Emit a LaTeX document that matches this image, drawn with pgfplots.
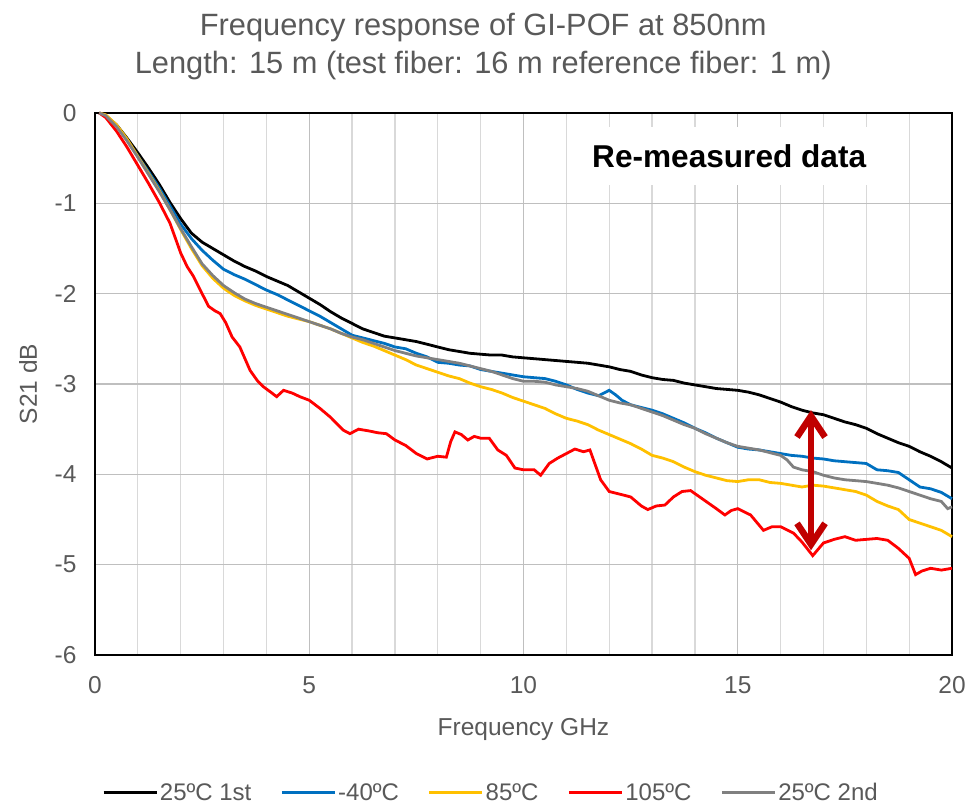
\documentclass[border=0pt]{standalone}
\usepackage{fontspec}
\setmainfont{Liberation Sans}
\usepackage{pgfplots}
\pgfplotsset{compat=1.18}
\usetikzlibrary{arrows.meta}
\definecolor{txtgray}{HTML}{595959}
\definecolor{cblue}{HTML}{0070C0}
\definecolor{cyellow}{HTML}{FFC000}
\definecolor{cred}{HTML}{FF0000}
\definecolor{cgray}{HTML}{808080}
\definecolor{arrowred}{HTML}{C00000}
\definecolor{majgrid}{HTML}{BFBFBF}
\definecolor{mingrid}{HTML}{D9D9D9}
\begin{document}
\begin{tikzpicture}
\begin{axis}[
  width=857bp, height=542bp, scale only axis,
  xmin=0, xmax=20, ymin=-6, ymax=0,
  xtick={0,5,10,15,20},
  minor xtick={1,2,3,4,6,7,8,9,11,12,13,14,16,17,18,19},
  ytick={-6,-5,-4,-3,-2,-1,0},
  major tick length=0pt, minor tick length=0pt,
  xmajorgrids, xminorgrids, ymajorgrids,
  major grid style={color=majgrid, line width=1.3bp},
  minor grid style={color=mingrid, line width=1.3bp},
  axis line style={black, line width=2.3bp},
  /pgf/number format/assume math mode=true,
  tick label style={font=\fontsize{24.5bp}{29bp}\selectfont, color=txtgray},
  xticklabel style={yshift=-18bp},
  yticklabel style={xshift=-15bp},
  xlabel={Frequency GHz},
  ylabel={S21 dB},
  label style={font=\fontsize{24.5bp}{29bp}\selectfont, color=txtgray},
  xlabel style={at={(axis description cs:0.5,-0.137)}, anchor=center},
  ylabel style={at={(axis description cs:-0.078,0.5)}, anchor=center},
  clip=false,
  legend columns=5,
  legend style={at={(axis description cs:0.462,-0.254)}, anchor=center, draw=none,
    font=\fontsize{24bp}{29bp}\selectfont, text=txtgray,
    /tikz/every even column/.append style={column sep=27bp}},
  legend image code/.code={\draw[#1] (0bp,0bp) -- (53bp,0bp);},
]
\addplot[black, line width=2.8bp] table {
0.1 0
0.25 -0.03
0.5 -0.13
0.75 -0.28
1.0 -0.44
1.25 -0.61
1.5 -0.79
1.75 -0.99
2.0 -1.17
2.25 -1.33
2.5 -1.43
2.75 -1.50
3.0 -1.57
3.25 -1.64
3.5 -1.70
3.75 -1.75
4.0 -1.81
4.25 -1.86
4.5 -1.91
4.75 -1.98
5.0 -2.05
5.25 -2.12
5.5 -2.20
5.75 -2.27
6.0 -2.33
6.25 -2.39
6.5 -2.43
6.75 -2.47
7.0 -2.49
7.25 -2.51
7.5 -2.53
7.75 -2.56
8.0 -2.59
8.25 -2.62
8.5 -2.64
8.75 -2.66
9.0 -2.67
9.25 -2.68
9.5 -2.68
9.75 -2.70
10.0 -2.71
10.25 -2.72
10.5 -2.73
10.75 -2.74
11.0 -2.75
11.25 -2.76
11.5 -2.77
11.75 -2.79
12.0 -2.81
12.25 -2.84
12.5 -2.86
12.75 -2.90
13.0 -2.93
13.25 -2.95
13.5 -2.96
13.75 -2.99
14.0 -3.01
14.25 -3.03
14.5 -3.05
14.75 -3.06
15.0 -3.07
15.25 -3.09
15.5 -3.12
15.75 -3.16
16.0 -3.20
16.25 -3.25
16.5 -3.29
16.75 -3.32
17.0 -3.34
17.25 -3.38
17.5 -3.42
17.75 -3.45
18.0 -3.49
18.25 -3.55
18.5 -3.60
18.75 -3.65
19.0 -3.69
19.25 -3.75
19.5 -3.80
19.75 -3.86
20.0 -3.93
};
\addlegendentry{25ºC 1st}
\addplot[cblue, line width=2.8bp] table {
0.1 0
0.25 -0.03
0.5 -0.14
0.75 -0.30
1.0 -0.48
1.25 -0.65
1.5 -0.83
1.75 -1.03
2.0 -1.23
2.25 -1.39
2.5 -1.52
2.75 -1.63
3.0 -1.73
3.25 -1.79
3.5 -1.84
3.75 -1.90
4.0 -1.96
4.25 -2.01
4.5 -2.07
4.75 -2.13
5.0 -2.19
5.25 -2.25
5.5 -2.32
5.75 -2.39
6.0 -2.46
6.25 -2.49
6.5 -2.52
6.75 -2.55
7.0 -2.59
7.25 -2.61
7.5 -2.66
7.75 -2.70
8.0 -2.76
8.25 -2.77
8.5 -2.79
8.75 -2.80
9.0 -2.84
9.25 -2.86
9.5 -2.88
9.75 -2.90
10.0 -2.92
10.25 -2.93
10.5 -2.94
10.75 -2.97
11.0 -3.01
11.25 -3.06
11.5 -3.10
11.75 -3.13
12.0 -3.07
12.15 -3.12
12.3 -3.18
12.5 -3.23
12.75 -3.26
13.0 -3.29
13.25 -3.33
13.5 -3.38
13.75 -3.43
14.0 -3.49
14.25 -3.54
14.5 -3.60
14.75 -3.65
15.0 -3.70
15.25 -3.72
15.5 -3.73
15.75 -3.75
16.0 -3.77
16.25 -3.79
16.5 -3.80
16.75 -3.82
17.0 -3.83
17.25 -3.85
17.5 -3.86
17.75 -3.87
18.0 -3.88
18.25 -3.95
18.5 -3.96
18.75 -3.98
19.0 -4.06
19.25 -4.14
19.5 -4.16
19.75 -4.20
20.0 -4.27
};
\addlegendentry{-40ºC}
\addplot[cyellow, line width=2.8bp] table {
0.1 0
0.25 -0.02
0.5 -0.13
0.75 -0.29
1.0 -0.48
1.25 -0.67
1.5 -0.86
1.75 -1.07
2.0 -1.29
2.25 -1.50
2.5 -1.69
2.75 -1.83
3.0 -1.94
3.25 -2.02
3.5 -2.08
3.75 -2.13
4.0 -2.17
4.25 -2.21
4.5 -2.25
4.75 -2.28
5.0 -2.31
5.25 -2.35
5.5 -2.39
5.75 -2.44
6.0 -2.49
6.25 -2.54
6.5 -2.58
6.75 -2.63
7.0 -2.68
7.25 -2.73
7.5 -2.79
7.75 -2.83
8.0 -2.87
8.25 -2.91
8.5 -2.94
8.75 -2.99
9.0 -3.03
9.25 -3.06
9.5 -3.10
9.75 -3.15
10.0 -3.19
10.25 -3.23
10.5 -3.27
10.75 -3.33
11.0 -3.38
11.25 -3.41
11.5 -3.45
11.75 -3.51
12.0 -3.56
12.25 -3.61
12.5 -3.66
12.75 -3.72
13.0 -3.79
13.25 -3.82
13.5 -3.86
13.75 -3.92
14.0 -3.97
14.25 -4.01
14.5 -4.04
14.75 -4.07
15.0 -4.08
15.25 -4.06
15.5 -4.06
15.75 -4.09
16.0 -4.10
16.25 -4.12
16.5 -4.14
16.75 -4.12
17.0 -4.13
17.25 -4.15
17.5 -4.17
17.75 -4.19
18.0 -4.23
18.25 -4.30
18.5 -4.35
18.75 -4.39
19.0 -4.50
19.25 -4.54
19.5 -4.58
19.75 -4.62
20.0 -4.69
};
\addlegendentry{85ºC}
\addplot[cred, line width=2.8bp] table {
0.1 0
0.25 -0.05
0.5 -0.20
0.75 -0.38
1.0 -0.58
1.25 -0.78
1.5 -0.99
1.75 -1.22
2.0 -1.55
2.15 -1.70
2.3 -1.81
2.5 -2.00
2.65 -2.14
2.8 -2.19
2.92 -2.22
3.05 -2.32
3.2 -2.48
3.38 -2.59
3.5 -2.72
3.62 -2.85
3.8 -2.97
3.93 -3.03
4.1 -3.09
4.24 -3.14
4.4 -3.07
4.6 -3.10
4.78 -3.14
5.0 -3.18
5.25 -3.27
5.5 -3.37
5.79 -3.51
5.95 -3.55
6.15 -3.50
6.4 -3.52
6.6 -3.54
6.8 -3.55
7.0 -3.62
7.25 -3.68
7.5 -3.77
7.75 -3.83
8.0 -3.80
8.2 -3.81
8.3 -3.64
8.4 -3.53
8.55 -3.56
8.7 -3.62
8.85 -3.58
9.0 -3.60
9.2 -3.60
9.4 -3.73
9.6 -3.79
9.8 -3.93
10.0 -3.95
10.25 -3.95
10.4 -4.01
10.6 -3.88
10.8 -3.82
11.0 -3.77
11.2 -3.72
11.4 -3.75
11.55 -3.73
11.8 -4.06
12.0 -4.19
12.25 -4.22
12.5 -4.25
12.75 -4.35
12.9 -4.39
13.1 -4.35
13.3 -4.34
13.5 -4.25
13.7 -4.19
13.9 -4.18
14.2 -4.28
14.5 -4.38
14.7 -4.45
14.85 -4.40
15.0 -4.38
15.3 -4.45
15.6 -4.62
15.8 -4.58
16.0 -4.58
16.3 -4.65
16.5 -4.75
16.75 -4.90
17.0 -4.76
17.25 -4.72
17.5 -4.69
17.75 -4.73
18.0 -4.72
18.25 -4.71
18.5 -4.73
18.75 -4.82
19.0 -4.93
19.15 -5.11
19.3 -5.07
19.5 -5.04
19.75 -5.06
20.0 -5.04
};
\addlegendentry{105ºC}
\addplot[cgray, line width=2.8bp] table {
0.1 0
0.25 -0.03
0.5 -0.15
0.75 -0.31
1.0 -0.49
1.25 -0.68
1.5 -0.87
1.75 -1.07
2.0 -1.28
2.25 -1.48
2.5 -1.67
2.75 -1.80
3.0 -1.91
3.25 -1.99
3.5 -2.06
3.75 -2.11
4.0 -2.15
4.25 -2.19
4.5 -2.23
4.75 -2.27
5.0 -2.31
5.25 -2.35
5.5 -2.39
5.75 -2.44
6.0 -2.48
6.25 -2.51
6.5 -2.55
6.75 -2.59
7.0 -2.63
7.25 -2.66
7.5 -2.69
7.75 -2.71
8.0 -2.73
8.25 -2.75
8.5 -2.77
8.75 -2.80
9.0 -2.83
9.25 -2.86
9.5 -2.90
9.75 -2.94
10.0 -2.97
10.25 -2.97
10.5 -2.98
10.75 -3.01
11.0 -3.03
11.25 -3.05
11.5 -3.08
11.75 -3.13
12.0 -3.18
12.25 -3.21
12.5 -3.23
12.75 -3.27
13.0 -3.31
13.25 -3.35
13.5 -3.40
13.75 -3.45
14.0 -3.49
14.25 -3.55
14.5 -3.60
14.75 -3.65
15.0 -3.69
15.25 -3.71
15.5 -3.73
15.75 -3.76
16.0 -3.79
16.15 -3.84
16.3 -3.92
16.5 -3.95
16.75 -3.97
17.0 -4.01
17.25 -4.04
17.5 -4.06
17.75 -4.07
18.0 -4.08
18.25 -4.10
18.5 -4.12
18.75 -4.15
19.0 -4.19
19.25 -4.23
19.5 -4.27
19.75 -4.30
19.9 -4.38
20.0 -4.36
};
\addlegendentry{25ºC 2nd}
\node[fill=white, minimum width=322bp, minimum height=58bp, inner sep=0pt,
  font=\bfseries\fontsize{31.6bp}{36bp}\selectfont, text=black]
  at (axis cs:14.8,-0.476) {Re-measured data};
\draw[arrowred, line width=6.5bp,
  {Straight Barb[length=21bp,width=28bp]}-{Straight Barb[length=21bp,width=28bp]}]
  (axis cs:16.71,-3.29) -- (axis cs:16.71,-4.84);
\node[font=\fontsize{30.8bp}{36bp}\selectfont, text=txtgray] at (axis description cs:0.453,1.157) {Frequency response of GI-POF at 850nm};
\node[font=\fontsize{30.8bp}{36bp}\selectfont, text=txtgray] at (axis description cs:0.453,1.087) {Length: 15 m (test fiber: 16 m reference fiber: 1 m)};
\end{axis}
\pgfresetboundingbox
\path[use as bounding box] (-95bp,-151bp) rectangle (872bp,655bp);
\end{tikzpicture}
\end{document}
